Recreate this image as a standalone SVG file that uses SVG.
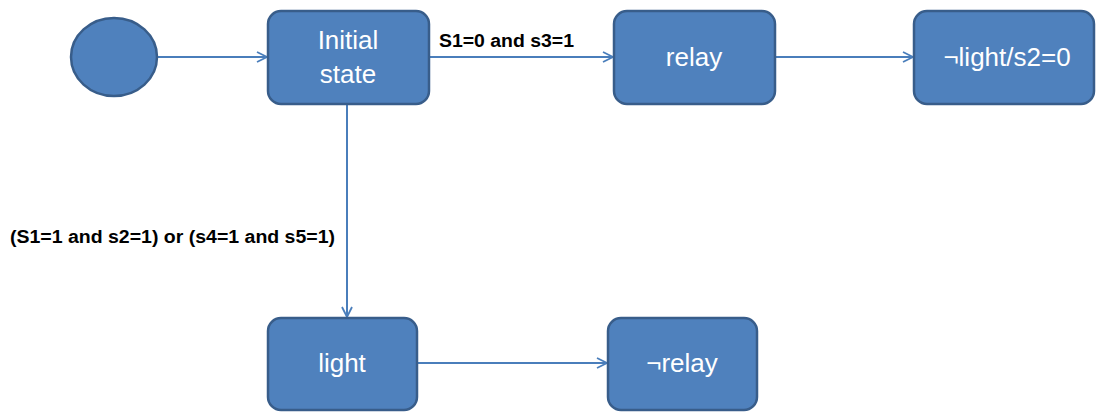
<svg xmlns="http://www.w3.org/2000/svg" width="1096" height="412" viewBox="0 0 1096 412">
<style>
.node{fill:#4F81BD;stroke:#385D8A;stroke-width:2.5}
.nt{fill:#FFFFFF;font-family:"Liberation Sans",Arial,sans-serif;font-size:26px;text-anchor:middle}
.lbl{fill:#000000;font-family:"Liberation Sans",Arial,sans-serif;font-size:18px;font-weight:bold}
.edge{fill:none;stroke:#4A7EBB;stroke-width:2}
</style>
<defs>
<marker id="arr" viewBox="0 0 12 12" refX="11" refY="6" markerWidth="12" markerHeight="12" markerUnits="userSpaceOnUse" orient="auto">
<path d="M1,1 L11,6 L1,11" fill="none" stroke="#4A7EBB" stroke-width="1.8"/>
</marker>
</defs>
<rect width="1096" height="412" fill="#FFFFFF"/>
<g id="connectors">
<line class="edge" x1="157" y1="57" x2="267" y2="57" marker-end="url(#arr)"/>
<line class="edge" x1="429" y1="57" x2="613" y2="57" marker-end="url(#arr)"/>
<line class="edge" x1="775" y1="57" x2="913" y2="57" marker-end="url(#arr)"/>
<line class="edge" x1="347" y1="104" x2="347" y2="317" marker-end="url(#arr)"/>
<line class="edge" x1="417" y1="363" x2="607" y2="363" marker-end="url(#arr)"/>
<text class="lbl" x="439" y="47" textLength="135" lengthAdjust="spacingAndGlyphs">S1=0 and s3=1</text>
<text class="lbl" x="10" y="243" textLength="325" lengthAdjust="spacingAndGlyphs">(S1=1 and s2=1) or (s4=1 and s5=1)</text>
</g>
<g id="start">
<ellipse class="node" cx="114" cy="57" rx="43" ry="39"/>
</g>
<g id="initial">
<rect class="node" x="268" y="11" width="161" height="93" rx="13"/>
<text class="nt" x="348" y="49">Initial</text>
<text class="nt" x="348" y="83">state</text>
</g>
<g id="relay">
<rect class="node" x="614" y="11" width="161" height="93" rx="13"/>
<text class="nt" x="694" y="66">relay</text>
</g>
<g id="notlight">
<rect class="node" x="914" y="11" width="180" height="93" rx="13"/>
<text class="nt" x="1007" y="66">¬light/s2=0</text>
</g>
<g id="light">
<rect class="node" x="268" y="318" width="149" height="92" rx="13"/>
<text class="nt" x="342" y="372">light</text>
</g>
<g id="notrelay">
<rect class="node" x="608" y="318" width="149" height="92" rx="13"/>
<text class="nt" x="682" y="372">¬relay</text>
</g>
</svg>
